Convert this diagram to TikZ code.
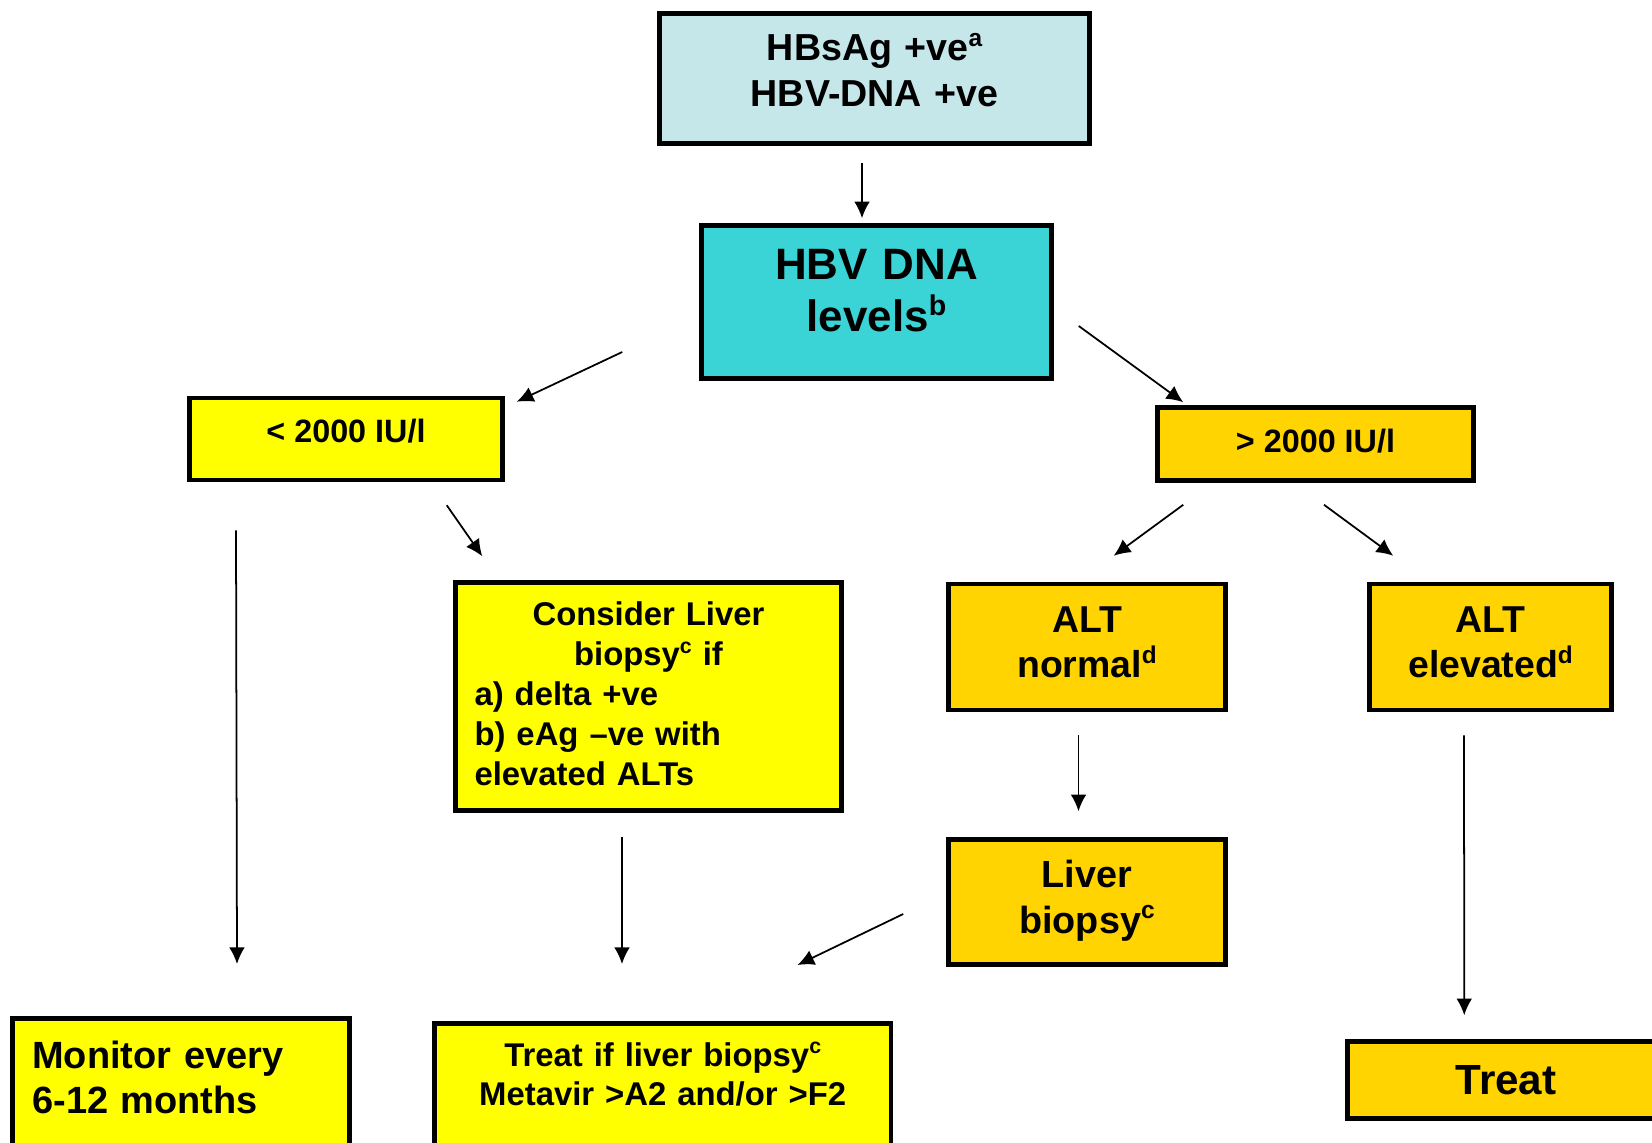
\documentclass[tikz,border=0pt]{standalone}
\usepackage{fontspec}
\setmainfont{Liberation Sans}
\usetikzlibrary{arrows.meta,calc}
\definecolor{paleteal}{HTML}{C5E7EA}
\definecolor{hbvcyan}{HTML}{3AD3D6}
\definecolor{lowyellow}{HTML}{FFFF00}
\definecolor{highgold}{HTML}{FFD400}
\tikzset{
  box_/.style   = {shape=rectangle, draw, line width=2.6pt, align=center, inner sep=0pt},
  arrow_/.style = {draw, line width=1pt, -{Latex[length=9.5pt,width=9pt]}}
}
\newcommand{\boxfont}[2]{\fontsize{#1}{#2}\selectfont\bfseries}
\newcommand{\sups}[1]{\raisebox{0.38em}{\scalebox{0.65}{#1}}}

\begin{document}
\begin{tikzpicture}
  [
    x = 0.02cm,
    y = -0.02cm
  ]
  \useasboundingbox (0,0) rectangle (1652,1142);
  \clip (0,0) rectangle (1652,1142);

  % boxes
  \node [box_, fill=paleteal, minimum width=8.6cm, minimum height=2.6cm,
         text width=8.4cm, text height=15.3pt, text depth=35.4pt,
         font=\boxfont{21.4}{25.9}] (hbsag) at (874.5,78.5)
        {HBsAg +ve\sups{a}\\HBV-DNA +ve};
  \node [box_, fill=hbvcyan, minimum width=7cm, minimum height=3.06cm,
         text width=6.8cm, text height=17.9pt, text depth=43pt,
         font=\boxfont{25}{29.5}] (hbv) at (876.5,302)
        {HBV DNA\\levels\sups{b}};
  \node [box_, fill=lowyellow, minimum width=6.26cm, minimum height=1.64cm,
         text depth=9pt, font=\boxfont{18.4}{22}] (low) at (346,439)
        {< 2000 IU/l};
  \node [box_, fill=highgold, minimum width=6.32cm, minimum height=1.46cm,
         text depth=4pt, font=\boxfont{18.4}{22}] (high) at (1315.5,444)
        {> 2000 IU/l};
  \node [box_, fill=lowyellow, minimum width=7.72cm, minimum height=4.56cm,
         text width=6.96cm, text height=13.4pt, text depth=94pt,
         align=left, font=\boxfont{18.7}{22.8}] (consider) at (648.5,696.5)
        {{\centering Consider Liver\\ biopsy\sups{c} if\par}%
         a) delta +ve\\ b) eAg --ve with\\ elevated ALTs};
  \node [box_, fill=highgold, minimum width=5.54cm, minimum height=2.52cm,
         text width=5.2cm, text height=15.25pt, text depth=32pt,
         font=\boxfont{21.3}{26}] (altnorm) at (1087,647)
        {ALT\\normal\sups{d}};
  \node [box_, fill=highgold, minimum width=4.84cm, minimum height=2.52cm,
         text width=4.6cm, text height=15.25pt, text depth=32pt,
         font=\boxfont{21.3}{26}] (altelev) at (1490.5,647)
        {ALT\\elevated\sups{d}};
  \node [box_, fill=highgold, minimum width=5.54cm, minimum height=2.5cm,
         text width=5.2cm, text height=15.4pt, text depth=32pt,
         font=\boxfont{21.5}{26}] (biopsy) at (1087,902)
        {Liver\\biopsy\sups{c}};
  \node [box_, fill=lowyellow, anchor=north west, text width=5.94cm, align=left,
         inner xsep=0.4cm, inner ysep=0.45cm, text depth=3cm,
         font=\boxfont{21.6}{25.5}] (monitor) at (10,1016)
        {Monitor every\\6-12 months};
  \node [box_, fill=lowyellow, anchor=north west, text width=8.74cm,
         inner xsep=0.2cm, inner ysep=0.38cm, text depth=3cm,
         font=\boxfont{18.7}{22.5}] (treatif) at (432,1021)
        {Treat if liver biopsy\sups{c}\\Metavir >A2 and/or >F2};
  \node [box_, fill=highgold, minimum width=6.34cm, minimum height=1.54cm,
         font=\boxfont{24}{28}] (treat) at (1506,1080)
        {Treat};

  % arrows
  \draw [arrow_] ($(hbsag.south)+(-12.5,17)$) -- ($(hbv.north)+(-14.5,-5)$);
  \draw [arrow_] ($(hbv.west)+(-77,50)$) -- ($(low.north east)+(12,6)$);
  \draw [arrow_] ($(hbv.east)+(25,24)$) -- ($(high.north west)+(28,-3)$);
  \draw [arrow_] ($(low.south)+(-110,48)$) -- ($(monitor.north west)+(227,-52)$);
  \draw [arrow_] ($(low.south east)+(-58,23)$) -- ($(consider.north west)+(29,-24)$);
  \draw [arrow_] ($(high.south west)+(28,22)$) -- ($(altnorm.north east)+(-114,-26)$);
  \draw [arrow_] ($(high.south)+(8.5,22)$) -- ($(altelev.north west)+(26,-26)$);
  \draw [arrow_] ($(consider.south)+(-26.5,24)$) -- ($(treatif.north west)+(190,-57)$);
  \draw [arrow_] ($(altnorm.south)+(-8.5,23)$) -- ($(biopsy.north)+(-8.5,-26)$);
  \draw [arrow_] ($(biopsy.west)+(-43,12)$) -- ($(treatif.north east)+(-96,-56)$);
  \draw [arrow_] ($(altelev.south)+(-26.5,23)$) -- ($(treat.north west)+(119,-24)$);
\end{tikzpicture}
\end{document}
